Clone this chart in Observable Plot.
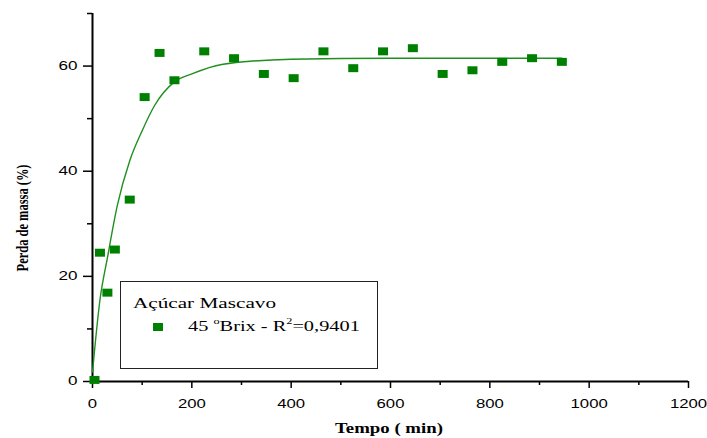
<!DOCTYPE html>
<html>
<head>
<meta charset="utf-8">
<script src="https://cdn.jsdelivr.net/npm/d3@7"></script>
<script src="https://cdn.jsdelivr.net/npm/@observablehq/plot@0.6"></script>
<style>
  html, body { margin: 0; padding: 0; background: #fff; }
  #chart { position: relative; width: 707px; height: 438px; }
</style>
</head>
<body>
<div id="chart"></div>
<script>
// Measured points (Tempo, min ; Perda de massa, %)
const tempo = [4, 15, 30, 45, 75, 105, 135, 165, 225, 285, 345, 405, 465, 525, 585, 645, 705, 765, 825, 885, 945];
const perda = [0.3, 24.5, 16.9, 25.1, 34.6, 54.1, 62.5, 57.3, 62.8, 61.5, 58.5, 57.7, 62.8, 59.6, 62.8, 63.4, 58.5, 59.2, 60.8, 61.5, 60.8];

// Fitted curve
const curveTempo = [0, 15, 30, 50, 75, 100, 125, 165, 200, 260, 400, 600, 945];
const curvePerda = [1.8, 15.5, 23.5, 33.5, 42, 47.7, 52.5, 57, 58.5, 60.3, 61.3, 61.5, 61.5];

// Axis ticks
const xMajor = [0, 200, 400, 600, 800, 1000, 1200];
const xMinor = [100, 300, 500, 700, 900, 1100];
const yMajor = [0, 20, 40, 60];
const yMinor = [10, 30, 50, 70];

// Texts
const xTitle = "Tempo ( min)";
const yTitle = "Perda de massa (%)";
const legendTitle = "Açúcar Mascavo";
const seriesColor = "#008000";

const points = tempo.map((t, i) => ({t, v: perda[i]}));
const curve = curveTempo.map((t, i) => ({t, v: curvePerda[i]}));

const rectSymbol = {
  draw(context, size) {
    const s = Math.sqrt(size);
    const w = s * 0.565, h = s * 0.45;
    context.rect(-w, -h, 2 * w, 2 * h);
  }
};

const svg = Plot.plot({
  width: 707,
  height: 438,
  marginLeft: 92,
  marginRight: 19,
  marginTop: 13,
  marginBottom: 57,
  style: {fontFamily: "Liberation Sans", fontSize: "12px", background: "#fff", color: "#000"},
  x: {domain: [0, 1200]},
  y: {domain: [0, 70]},
  marks: [
    Plot.axisY({ticks: yMajor, tickSize: 9, tickPadding: 6, tickFormat: d => String(d), label: null, stroke: "#000", strokeWidth: 1.5}),
    Plot.axisY({ticks: yMinor, tickSize: 5, tickFormat: () => "", label: null, stroke: "#000", strokeWidth: 1.5}),
    Plot.axisX({ticks: xMajor, tickSize: 7, tickPadding: 11, tickFormat: d => String(d), label: null, stroke: "#000", strokeWidth: 1.5}),
    Plot.axisX({ticks: xMinor, tickSize: 4, tickFormat: () => "", label: null, stroke: "#000", strokeWidth: 1.5}),
    Plot.ruleX([0], {stroke: "#000", strokeWidth: 2}),
    Plot.ruleY([0], {stroke: "#000", strokeWidth: 2}),
    Plot.line(curve, {x: "t", y: "v", stroke: "#1f8f1f", strokeWidth: 1.4, curve: "monotone-x"}),
    Plot.dot(points, {x: "t", y: "v", symbol: rectSymbol, r: 5, fill: seriesColor, stroke: "none"})
  ]
});

document.getElementById("chart").append(svg);

const s = d3.select(svg);
s.selectAll('g[aria-label="x-axis tick label"] text').each(function() {
  const n = this.textContent.length;
  if (n) { this.setAttribute("textLength", n * 9.3); this.setAttribute("lengthAdjust", "spacingAndGlyphs"); }
});
s.selectAll('g[aria-label="y-axis tick label"] text').each(function() {
  const n = this.textContent.length;
  if (n) { this.setAttribute("textLength", n * 9.5); this.setAttribute("lengthAdjust", "spacingAndGlyphs"); }
});

function stretchTo(sel, target) {
  const w = sel.node().getComputedTextLength();
  return w > 0 ? target / w : 1;
}

// X title
{
  const g = s.append("g");
  const t = g.append("text").text(xTitle)
    .attr("font-family", "Liberation Serif").attr("font-weight", "bold")
    .attr("font-size", 14).attr("text-anchor", "middle");
  const k = stretchTo(t, 108);
  g.attr("transform", `translate(389,433) scale(${k},1)`);
}
// Y title
{
  const g = s.append("g");
  const t = g.append("text").text(yTitle)
    .attr("font-family", "Liberation Serif").attr("font-weight", "bold")
    .attr("font-size", 13.5).attr("text-anchor", "middle");
  const k = stretchTo(t, 107);
  g.attr("transform", `translate(28,218) rotate(-90) scale(${k},1.3)`);
}
// Legend
{
  const lg = s.append("g").attr("text-anchor", "start");
  lg.append("rect").attr("x", 120.5).attr("y", 281.5).attr("width", 257).attr("height", 87)
    .attr("fill", "#fff").attr("stroke", "#222").attr("stroke-width", 1);
  const g1 = lg.append("g");
  const t1 = g1.append("text").text(legendTitle).attr("text-anchor", "start")
    .attr("font-family", "Liberation Serif").attr("font-size", 15);
  const k1 = stretchTo(t1, 143);
  g1.attr("transform", `translate(133,308) scale(${k1},1)`);

  lg.append("path").attr("d", d3.symbol(rectSymbol, Math.PI * 25)())
    .attr("transform", "translate(158,327)").attr("fill", seriesColor);

  const g2 = lg.append("g");
  const t2 = g2.append("text").attr("text-anchor", "start")
    .attr("font-family", "Liberation Serif").attr("font-size", 15);
  t2.append("tspan").text("45 ");
  t2.append("tspan").text("o").attr("font-size", 9).attr("dy", -7);
  t2.append("tspan").text("Brix - R").attr("dy", 7);
  t2.append("tspan").text("2").attr("font-size", 9).attr("dy", -7);
  t2.append("tspan").text("=0,9401").attr("dy", 7);
  const k2 = stretchTo(t2, 172);
  g2.attr("transform", `translate(188,331) scale(${k2},1)`);
}
</script>
</body>
</html>
